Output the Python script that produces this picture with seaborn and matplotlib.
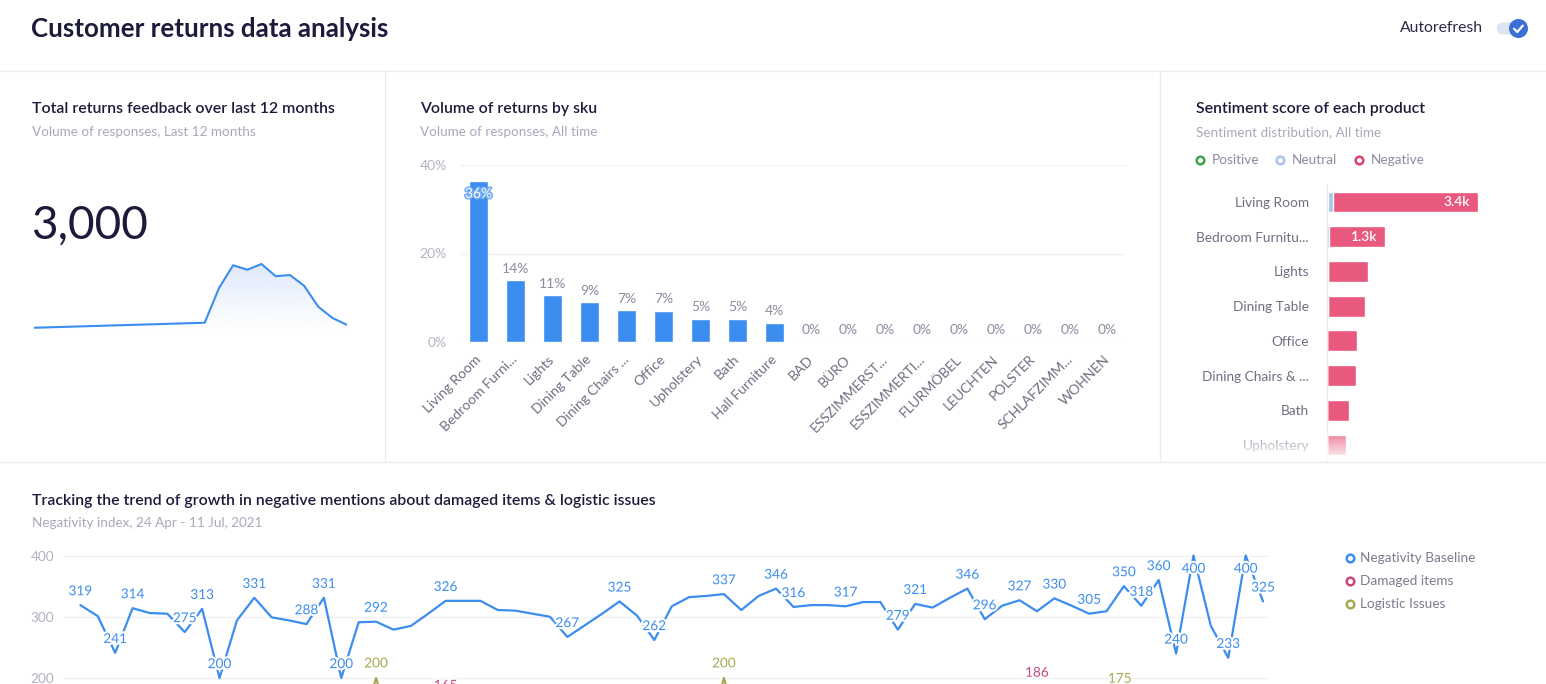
import numpy as np
import pandas as pd
import matplotlib
matplotlib.use("Agg")
import matplotlib.pyplot as plt
import matplotlib.colors as mcolors
import matplotlib.patheffects as pe
from matplotlib.patches import FancyBboxPatch, Circle
import seaborn as sns

# ---------------- data ----------------
spark_x = [0, 12, 13, 14, 15, 16, 17, 18, 19, 20, 21, 22]
spark_v = [9, 29, 167, 259, 241, 264, 215, 220, 177, 93, 48, 21]
total_returns = "3,000"

sku_labels = ["Living Room", "Bedroom Furni...", "Lights", "Dining Table", "Dining Chairs ...",
              "Office", "Upholstery", "Bath", "Hall Furniture", "BAD", "BÜRO", "ESSZIMMERST...",
              "ESSZIMMERTI...", "FLURMÖBEL", "LEUCHTEN", "POLSTER", "SCHLAFZIMM...", "WOHNEN"]
sku_share = [36.3, 13.9, 10.6, 9.0, 7.2, 7.1, 5.3, 5.2, 4.3, 0, 0, 0, 0, 0, 0, 0, 0, 0]
sku_ticks = [0, 20, 40]

sent_products = ["Living Room", "Bedroom Furnitu...", "Lights", "Dining Table", "Office",
                 "Dining Chairs & ...", "Bath", "Upholstery"]
sent_pos = [30, 0, 25, 20, 0, 0, 0, 0]
sent_neu = [110, 45, 0, 0, 0, 0, 0, 0]
sent_neg = [3260, 1255, 895, 830, 680, 655, 490, 430]

baseline = [319, 301, 241, 314, 306, 305, 275, 313, 200, 294,
            331, 299, 294, 288, 331, 200, 291, 292, 279, 285,
            305, 326, 326, 326, 311, 310, 305, 300, 267, 286,
            305, 325, 302, 262, 317, 332, 334, 337, 311, 334,
            346, 316, 319, 319, 317, 324, 324, 279, 321, 315,
            331, 346, 296, 318, 327, 309, 330, 318, 305, 309,
            350, 318, 360, 240, 400, 285, 233, 400, 325]
damaged = [132, 128, 140, 121, 118, 135, 142, 126, 119, 130,
           137, 124, 129, 141, 133, 120, 127, 138, 131, 144,
           150, 165, 139, 128, 122, 134, 140, 126, 118, 131,
           137, 129, 124, 135, 142, 130, 127, 121, 133, 139,
           126, 131, 144, 137, 125, 129, 136, 141, 128, 132,
           145, 138, 127, 140, 152, 186, 147, 133, 129, 138,
           144, 131, 126, 135, 140, 128, 133, 137, 130]
logistic = [98, 104, 92, 110, 101, 95, 108, 99, 103, 96,
            107, 100, 94, 105, 111, 97, 102, 200, 106, 99,
            93, 108, 101, 96, 104, 110, 98, 103, 95, 107,
            100, 94, 109, 102, 97, 105, 99, 200, 103, 96,
            108, 101, 95, 106, 99, 104, 110, 97, 102, 94,
            105, 100, 108, 96, 103, 99, 107, 101, 95, 175,
            104, 98, 106, 100, 97, 109, 102, 96, 103]
baseline_labeled = [0, 2, 3, 6, 7, 8, 10, 13, 14, 15, 17, 21, 28, 31, 33, 37, 40, 41, 44,
                    47, 48, 51, 52, 54, 56, 58, 60, 61, 62, 63, 64, 66, 67, 68]
damaged_labeled = [21, 55]
logistic_labeled = [17, 37, 59]
trend_ticks = [200, 300, 400]

# ---------------- style ----------------
sns.set_theme(style="white")
plt.rcParams["font.family"] = ["Lato", "DejaVu Sans"]

W, H = 1546, 684
fig = plt.figure(figsize=(W / 100, H / 100), dpi=100, facecolor="white")

DARK = "#1d1b3c"
SUB = "#a9a8bb"
TICK = "#b3b2c4"
LBL = "#6f6e82"
SEP = "#ececf4"
BLUE = "#3b8def"
PINK = "#c8477e"
OLIVE = "#a7a852"
NEG = "#e9587d"
NEU = "#a9c3ee"
POS = "#3fa34d"


def px_axes(x0, y0, x1, y1, **kw):
    ax = fig.add_axes([x0 / W, 1 - y1 / H, (x1 - x0) / W, (y1 - y0) / H], **kw)
    ax.set_facecolor("none")
    return ax


bg = px_axes(0, 0, W, H)
bg.set_xlim(0, W)
bg.set_ylim(H, 0)
bg.axis("off")

# separators
bg.plot([0, W], [71, 71], color=SEP, lw=1)
bg.plot([0, W], [462, 462], color=SEP, lw=1)
bg.plot([385, 385], [71, 462], color=SEP, lw=1)
bg.plot([1160, 1160], [71, 462], color=SEP, lw=1)

# header
bg.text(31, 37, "Customer returns data analysis", fontsize=18.6, fontweight="bold",
        color=DARK, va="baseline", ha="left")
bg.text(1400, 32.5, "Autorefresh", fontsize=11.3, color="#2c2a48", va="baseline", ha="left")
bg.add_patch(FancyBboxPatch((1497, 22.5), 30, 12, boxstyle="round,pad=0,rounding_size=6",
                            fc="#dde4f4", ec="none"))
bg.add_patch(Circle((1518.5, 28.5), 9.5, fc="#3a6fd6", ec="none"))
bg.plot([1514, 1517.3, 1522.8], [28.8, 32, 25.6], color="white", lw=1.6,
        solid_capstyle="round", solid_joinstyle="round")


def panel_title(x, ybase, title, sub, sub_y):
    bg.text(x, ybase, title, fontsize=11.4, fontweight="semibold", color=DARK,
            va="baseline", ha="left")
    bg.text(x, sub_y, sub, fontsize=9.7, color=SUB, va="baseline", ha="left")


panel_title(32, 113, "Total returns feedback over last 12 months",
            "Volume of responses, Last 12 months", 136)
panel_title(420, 113, "Volume of returns by sku", "Volume of responses, All time", 136)
panel_title(1196, 113, "Sentiment score of each product", "Sentiment distribution, All time", 136)
panel_title(32, 505, "Tracking the trend of growth in negative mentions about damaged items & logistic issues",
            "Negativity index, 24 Apr - 11 Jul, 2021", 527)

# ---------------- panel 1: big number + sparkline ----------------
bg.text(31, 239, total_returns, fontsize=33, fontweight="normal", color=DARK,
        va="baseline", ha="left")
ax1 = px_axes(34.3, 255, 346.7, 330)
sns.lineplot(x=spark_x, y=spark_v, ax=ax1, color=BLUE, lw=1.5)
poly = ax1.fill_between(spark_x, spark_v, 0, color="none", lw=0)
grad = np.zeros((100, 1, 4))
grad[..., :3] = mcolors.to_rgb("#d9e5fb")
grad[:, 0, 3] = np.linspace(0.0, 0.85, 100)
im = ax1.imshow(grad, extent=[0, 22, 0, 270], origin="lower", aspect="auto", zorder=0)
im.set_clip_path(poly.get_paths()[0], transform=ax1.transData)
ax1.set_xlim(0, 22)
ax1.set_ylim(0, 300)
ax1.axis("off")

# ---------------- panel 2: bars by sku ----------------
ax2 = px_axes(460, 165, 1126, 342)
df_sku = pd.DataFrame({"sku": sku_labels, "share": sku_share})
sns.barplot(data=df_sku, x="sku", y="share", color=BLUE, width=0.49, saturation=1, ax=ax2, zorder=2)
ax2.set_xlim(-0.5, len(sku_labels) - 0.5)
ax2.set_ylim(0, 40)
ax2.set_yticks(sku_ticks)
ax2.set_yticklabels([f"{t}%" for t in sku_ticks])
ax2.yaxis.grid(True, color="#f1f1f6", lw=1)
ax2.set_axisbelow(True)
for s in ax2.spines.values():
    s.set_visible(False)
ax2.set_xlabel("")
ax2.set_ylabel("")
ax2.tick_params(axis="y", length=0, pad=9.5, labelsize=10, labelcolor=TICK)
ax2.set_xticks(range(len(sku_labels)))
ax2.set_xticklabels(sku_labels, rotation=45, ha="right", va="center", rotation_mode="anchor")
ax2.tick_params(axis="x", length=0, pad=11, labelsize=10, labelcolor=LBL)
for i, v in enumerate(sku_share):
    txt = f"{round(v)}%"
    if v > 34:
        ax2.annotate(txt, (i, v), xytext=(0, -9), textcoords="offset points", ha="center",
                     va="center", fontsize=10, color="white",
                     path_effects=[pe.withStroke(linewidth=2.2, foreground="#6eaaf2")])
    else:
        ax2.annotate(txt, (i, v), xytext=(0, 8.3), textcoords="offset points", ha="center",
                     va="center", fontsize=10, color="#8d8ca0")

# ---------------- panel 3: sentiment ----------------
for x, lab, col in [(1200, "Positive", POS), (1280, "Neutral", NEU), (1359, "Negative", "#e0406c")]:
    bg.plot([x], [159.5], "o", ms=5.5, mfc="white", mec=col, mew=1.8)
    bg.text(x + 11.5, 163.5, lab, fontsize=9.8, color="#8d8ca0", va="baseline", ha="left")

ax3 = px_axes(1327, 184.65, 1500, 462.4)
tot = [p + n + g for p, n, g in zip(sent_pos, sent_neu, sent_neg)]
posneu = [p + n for p, n in zip(sent_pos, sent_neu)]
df_sent = pd.DataFrame({"product": sent_products, "total": tot, "posneu": posneu, "pos": sent_pos})
sns.barplot(data=df_sent, x="total", y="product", color=NEG, orient="h", width=0.6, saturation=1, ax=ax3)
sns.barplot(data=df_sent, x="posneu", y="product", color=NEU, orient="h", width=0.6, saturation=1, ax=ax3)
sns.barplot(data=df_sent, x="pos", y="product", color=POS, orient="h", width=0.6, saturation=1, ax=ax3)
ax3.set_xlim(0, 173 / 0.0444)
ax3.set_ylim(len(sent_products) - 0.5, -0.5)
ax3.set_xlabel("")
ax3.set_ylabel("")
ax3.set_xticks([])
for k, s in ax3.spines.items():
    s.set_visible(k == "left")
ax3.spines["left"].set_color("#e6e6ee")
ax3.spines["left"].set_linewidth(0.8)
ax3.tick_params(axis="y", length=0, pad=13, labelsize=9.8, labelcolor=LBL)
for i, t in enumerate(tot):
    if t >= 1000:
        ax3.text(t - 8 / 0.0444, i, f"{t / 1000:.1f}k", ha="right", va="center",
                 fontsize=10, color="white", fontweight="semibold")

# ---------------- bottom: trend lines ----------------
ax4 = px_axes(63, 540.2, 1270, 800.5)
idx = list(range(len(baseline)))
names = ["Logistic Issues", "Damaged items", "Negativity Baseline"]
df_tr = pd.DataFrame({
    "idx": idx * 3,
    "value": logistic + damaged + baseline,
    "series": [names[0]] * len(idx) + [names[1]] * len(idx) + [names[2]] * len(idx),
})
sns.lineplot(data=df_tr, x="idx", y="value", hue="series", hue_order=names,
             palette={names[0]: OLIVE, names[1]: PINK, names[2]: BLUE},
             legend=False, lw=1.6, ax=ax4)
ax4.set_xlim(-1, 68.4)
ax4.set_ylim(0, 425)
ax4.set_yticks(trend_ticks)
ax4.yaxis.grid(True, color="#f1f1f6", lw=1)
ax4.set_axisbelow(True)
ax4.set_xticks([])
ax4.set_xlabel("")
ax4.set_ylabel("")
for s in ax4.spines.values():
    s.set_visible(False)
ax4.tick_params(axis="y", length=0, pad=6.5, labelsize=9.8, labelcolor=TICK)

halo = [pe.withStroke(linewidth=3, foreground="white")]
for i in baseline_labeled:
    v = baseline[i]
    dy = 10 if v < 395 else -9.5
    ax4.annotate(str(v), (i, v), xytext=(0, dy), textcoords="offset points", ha="center",
                 va="center", fontsize=9.8, color=BLUE, path_effects=halo, zorder=5)
for i in damaged_labeled:
    ax4.annotate(str(damaged[i]), (i, damaged[i]), xytext=(0, 10), textcoords="offset points",
                 ha="center", va="center", fontsize=9.8, color=PINK, path_effects=halo, zorder=5)
for i in logistic_labeled:
    dx = 9.5 if logistic[i] < 190 else 0
    ax4.annotate(str(logistic[i]), (i, logistic[i]), xytext=(dx, 10.5), textcoords="offset points",
                 ha="center", va="center", fontsize=9.8, color=OLIVE, path_effects=halo, zorder=5)

for yy, lab, col in [(558.3, "Negativity Baseline", BLUE), (581.3, "Damaged items", PINK),
                     (604.3, "Logistic Issues", OLIVE)]:
    bg.plot([1350], [yy], "o", ms=5.5, mfc="white", mec=col, mew=1.8)
    bg.text(1360.5, yy + 4, lab, fontsize=9.8, color="#7d7c90", va="baseline", ha="left")

# fade at the bottom of the sentiment panel
top = px_axes(0, 0, W, H, zorder=10)
top.set_xlim(0, W)
top.set_ylim(H, 0)
top.axis("off")
fade = np.ones((60, 1, 4))
fade[:, 0, 3] = np.linspace(0.0, 0.95, 60) ** 0.8
top.imshow(fade, extent=[1162, W, 461, 428], origin="upper", aspect="auto")
top.set_xlim(0, W)
top.set_ylim(H, 0)

fig.savefig("out.png", dpi=100, facecolor="white")
